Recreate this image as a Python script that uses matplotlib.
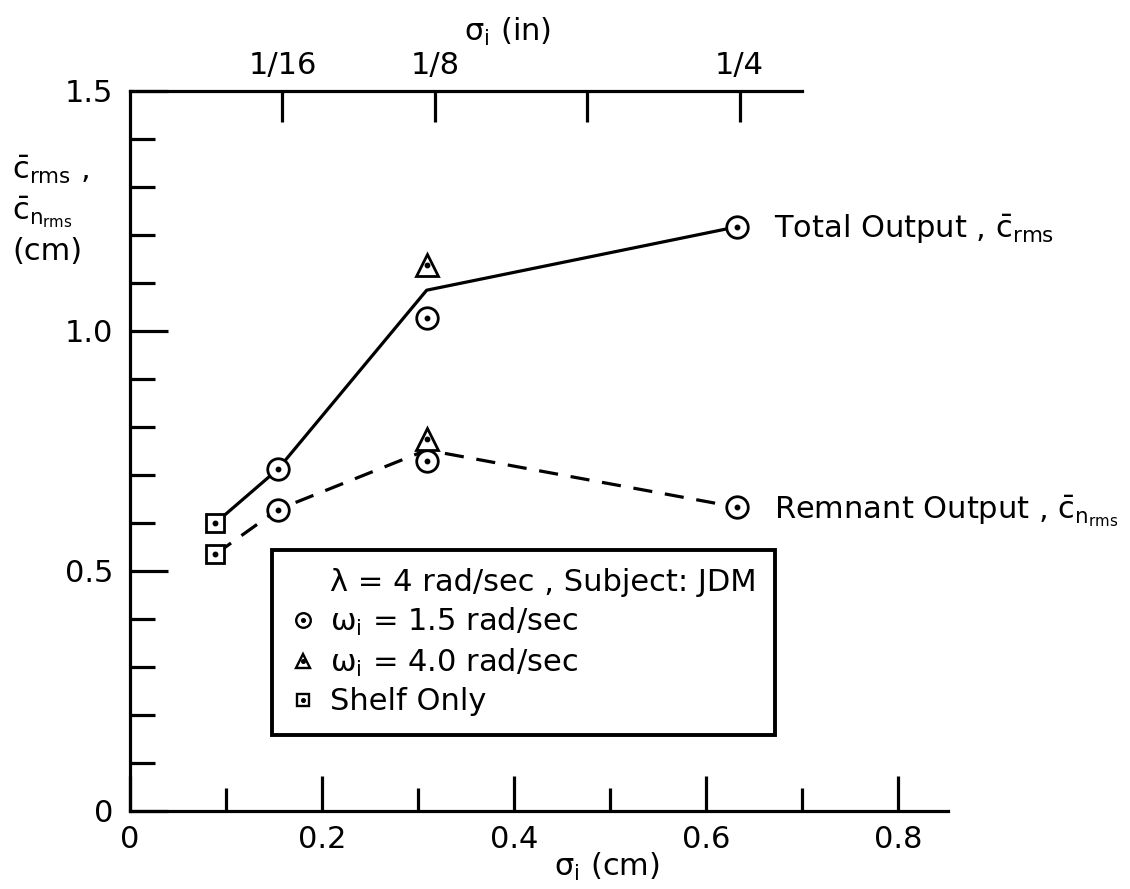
import numpy as np
import matplotlib
matplotlib.use("Agg")
import matplotlib.pyplot as plt
from matplotlib.lines import Line2D
from matplotlib.legend_handler import HandlerTuple

# sigma_i (cm) of the runs, and the two faired curves through them
sigma_cm = [0.089, 0.154, 0.309, 0.632]
total_rms = [0.600, 0.712, 1.085, 1.217]
remnant_rms = [0.535, 0.628, 0.752, 0.633]

# omega_i = 1.5 rad/sec
circ_x = [0.154, 0.154, 0.309, 0.309, 0.632, 0.632]
circ_y = [0.712, 0.628, 1.027, 0.729, 1.217, 0.633]

# omega_i = 4.0 rad/sec
tri_x = [0.309, 0.309]
tri_y = [1.137, 0.776]

# shelf only
sq_x = [0.089, 0.089]
sq_y = [0.600, 0.535]

# top scale in inches
in_ticks = [1 / 16, 1 / 8, 3 / 16, 1 / 4]
in_labels = ['1/16', '1/8', '', '1/4']

x_major = [0, 0.2, 0.4, 0.6, 0.8]
x_labels = ['0', '0.2', '0.4', '0.6', '0.8']
y_major = [0, 0.5, 1.0, 1.5]
y_labels = ['0', '0.5', '1.0', '1.5']

plt.rcParams['font.family'] = ['DejaVu Sans']
plt.rcParams['mathtext.default'] = 'regular'
FS = 22
LW = 2.3

fig = plt.figure(figsize=(11.3, 8.89), dpi=100)
ax = fig.add_axes([130 / 1130, 78 / 889, 818 / 1130, 720 / 889])
ax.set_xlim(0, 0.852)
ax.set_ylim(0, 1.5)

# curves
ax.plot(sigma_cm, total_rms, color='black', lw=LW, zorder=2)
ax.plot(sigma_cm, remnant_rms, color='black', lw=LW, dashes=(6, 4), zorder=2)


def dotted_markers(x, y, marker, size):
    ax.plot(x, y, ls='none', marker=marker, ms=size, mfc='white',
            mec='black', mew=2.0, zorder=3)
    ax.plot(x, y, ls='none', marker='o', ms=3.2, color='black', zorder=4)


dotted_markers(circ_x, circ_y, 'o', 15.5)
dotted_markers(tri_x, tri_y, '^', 16)
dotted_markers(sq_x, sq_y, 's', 12.5)

# axes styling
for side in ['top', 'right']:
    ax.spines[side].set_visible(False)
for side in ['left', 'bottom']:
    ax.spines[side].set_linewidth(LW)

ax.set_xticks(x_major)
ax.set_xticklabels(x_labels)
ax.set_xticks([0.1, 0.3, 0.5, 0.7], minor=True)
ax.set_yticks(y_major)
ax.set_yticklabels(y_labels)
ax.set_yticks(np.arange(0.1, 1.5, 0.1), minor=True)
ax.tick_params(which='both', direction='in', width=LW, labelsize=FS)
ax.tick_params(axis='y', which='major', length=27, pad=12)
ax.tick_params(axis='y', which='minor', length=18)
ax.tick_params(axis='x', which='major', length=25, pad=10)
ax.tick_params(axis='x', which='minor', length=16.5)

ax.set_xlabel(r'$\sigma_i$ (cm)', fontsize=FS, va='top')
ax.xaxis.set_label_coords(0.583, -0.055)

ax.set_ylabel(r'$\bar{c}_{rms}$ ,' + '\n' + r'$\bar{c}_{n_{rms}}$' + '\n(cm)',
              fontsize=FS, rotation=0, ha='left', va='center',
              multialignment='left', linespacing=1.3)
ax.yaxis.set_label_coords(-0.144, 0.835)

# top scale (inches)
ax2 = ax.twiny()
ax2.set_xlim(ax.get_xlim())
for side in ['left', 'right', 'bottom']:
    ax2.spines[side].set_visible(False)
ax2.spines['top'].set_linewidth(LW)
ax2.spines['top'].set_bounds(0, 0.70)
ax2.set_xticks([t * 2.54 for t in in_ticks])
ax2.set_xticklabels(in_labels)
ax2.tick_params(direction='in', length=22, width=LW, labelsize=FS, pad=8)
ax2.set_xlabel(r'$\sigma_i$ (in)', fontsize=FS, va='bottom')
ax2.xaxis.set_label_coords(0.461, 1.06)

# curve names
ax.annotate(r'Total Output , $\bar{c}_{rms}$', xy=(sigma_cm[-1], total_rms[-1]),
            xytext=(27, -8), textcoords='offset points', va='baseline',
            fontsize=FS)
ax.annotate(r'Remnant Output , $\bar{c}_{n_{rms}}$',
            xy=(sigma_cm[-1], remnant_rms[-1]),
            xytext=(27, -8), textcoords='offset points', va='baseline',
            fontsize=FS)

# legend
blank = Line2D([], [], ls='none')
dot = Line2D([], [], ls='none', marker='o', ms=2.6, color='black')
h_circ = (Line2D([], [], ls='none', marker='o', ms=10.5, mfc='white', mec='black', mew=1.7), dot)
h_tri = (Line2D([], [], ls='none', marker='^', ms=10.5, mfc='white', mec='black', mew=1.7), dot)
h_sq = (Line2D([], [], ls='none', marker='s', ms=8.5, mfc='white', mec='black', mew=1.7), dot)
leg = ax.legend([blank, h_circ, h_tri, h_sq],
                ['λ = 4 rad/sec , Subject: JDM',
                 r'$\omega_i$ = 1.5 rad/sec',
                 r'$\omega_i$ = 4.0 rad/sec',
                 'Shelf Only'],
                handler_map={tuple: HandlerTuple(ndivide=1, pad=0)},
                fontsize=FS, loc='upper left', bbox_to_anchor=(0.174, 0.3625),
                borderaxespad=0, fancybox=False, edgecolor='black',
                framealpha=1, handlelength=0.8, handletextpad=0.5,
                labelspacing=0.28, borderpad=0.6)
leg.get_frame().set_linewidth(LW + 0.5)
leg.set_zorder(5)

fig.savefig('out.png', dpi=100)
